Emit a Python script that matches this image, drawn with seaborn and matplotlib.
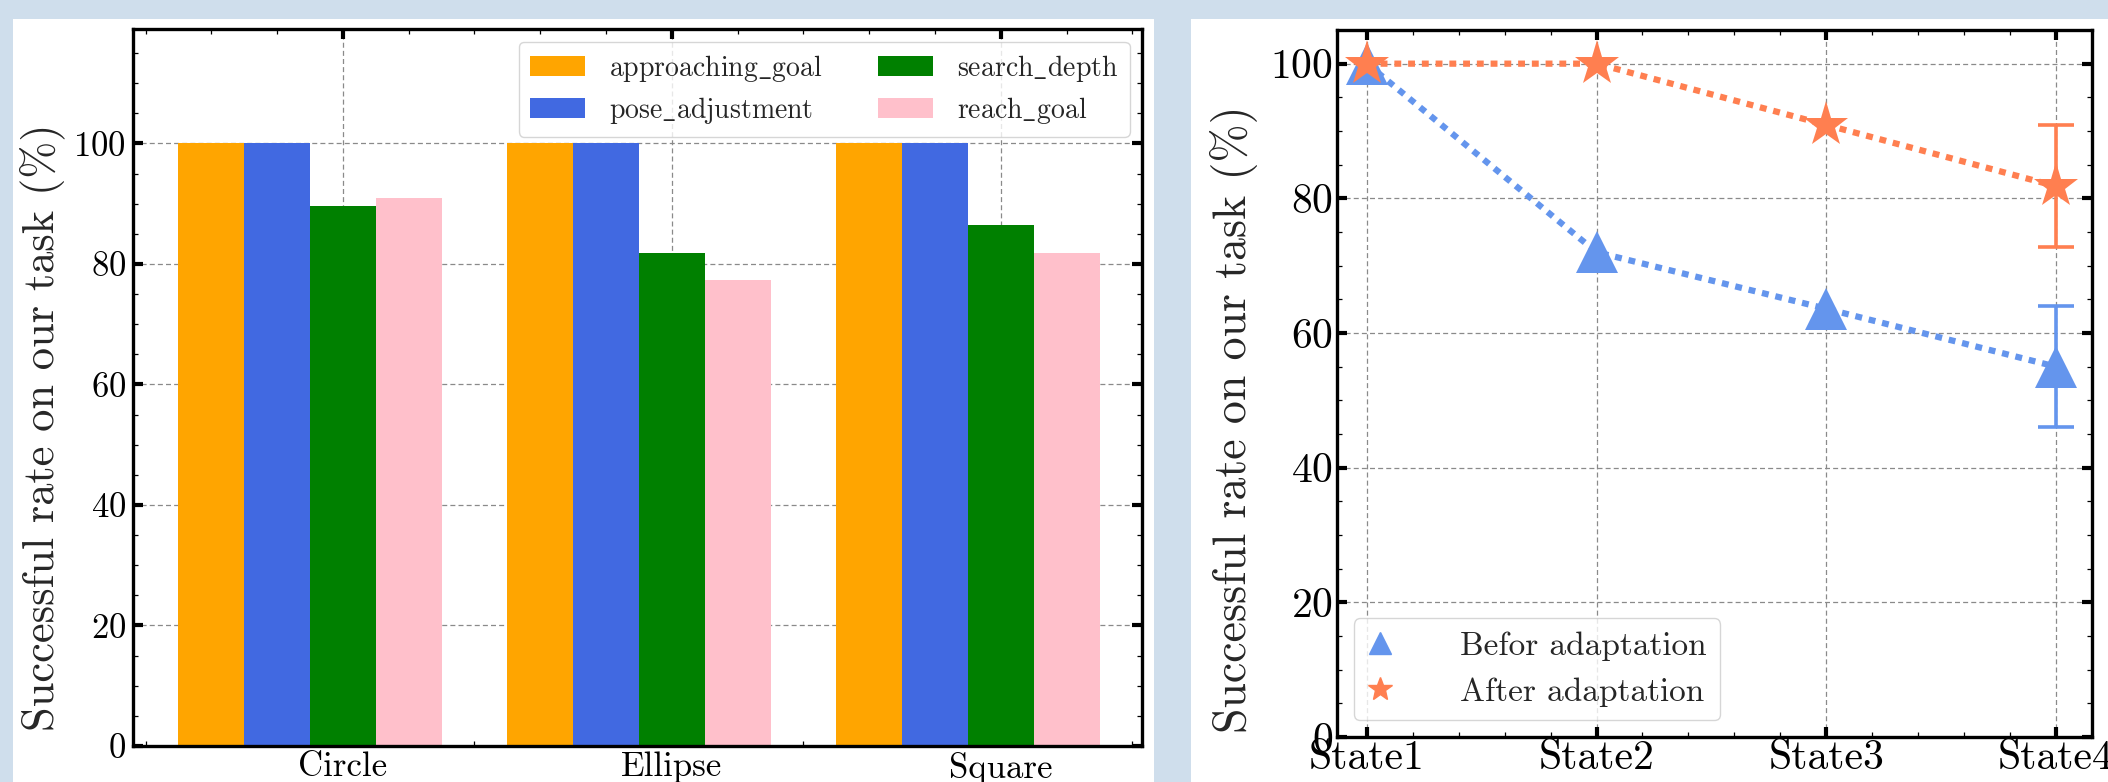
import matplotlib
matplotlib.use('Agg')
import numpy as np
import pandas as pd
import seaborn as sns
import matplotlib.pyplot as plt
from matplotlib.patches import Rectangle
from matplotlib.lines import Line2D
from matplotlib.ticker import MultipleLocator

# bar chart data
shapes = ['Circle', 'Ellipse', 'Square']
metrics = [r'approaching$\_$goal', r'pose$\_$adjustment', r'search$\_$depth', r'reach$\_$goal']
approaching_goal = [100, 100, 100]
pose_adjustment = [100, 100, 100]
search_depth = [89.7, 81.8, 86.4]
reach_goal = [90.9, 77.3, 81.8]
bar_colors = ['orange', 'royalblue', 'green', 'pink']

# line chart data
states = ['State1', 'State2', 'State3', 'State4']
before = [100, 72, 63.6, 55]
after = [100, 100, 90.9, 81.8]
before_err = [0, 0, 0, 9]
after_err = [0, 0, 0, 9.1]

sns.set_style('ticks')
plt.rcParams['font.family'] = ['cmr10']
plt.rcParams['mathtext.fontset'] = 'cm'
plt.rcParams['axes.formatter.use_mathtext'] = True

fig = plt.figure(figsize=(21.08, 7.82), dpi=100, facecolor='#cfdeec')
W, H = 2108, 782
fig.add_artist(Rectangle((13/W, 0), (1154-13)/W, (H-19)/H, transform=fig.transFigure,
                         facecolor='white', edgecolor='none', zorder=0))
fig.add_artist(Rectangle((1191/W, 0), (W-1191)/W, (H-19)/H, transform=fig.transFigure,
                         facecolor='white', edgecolor='none', zorder=0))

ax1 = fig.add_axes([133/W, (H-746)/H, (1142-133)/W, (746-29)/H])
ax2 = fig.add_axes([1337/W, (H-737)/H, (2092-1337)/W, (737-30)/H])


def style_axes(ax, fs):
    for s in ax.spines.values():
        s.set_linewidth(2.4)
        s.set_color('black')
    ax.tick_params(which='both', direction='in', top=True, right=True, labelsize=fs, colors='black')
    ax.tick_params(which='major', length=7, width=3)
    ax.tick_params(which='minor', length=3.5, width=0.9)
    ax.grid(True, which='major', linestyle=(0, (4, 2.5)), linewidth=0.9, color='#8a8a8a')


# left: grouped bars
rows = []
for i, s in enumerate(shapes):
    for m, vals in zip(metrics, [approaching_goal, pose_adjustment, search_depth, reach_goal]):
        rows.append({'shape': s, 'metric': m, 'rate': vals[i]})
df = pd.DataFrame(rows)

sns.barplot(data=df, x='shape', y='rate', hue='metric', palette=bar_colors, saturation=1,
            errorbar=None, width=0.8, linewidth=0, ax=ax1)
ax1.set_axisbelow(True)
ax1.set_xlim(-0.538, 2.529)
ax1.set_ylim(0, 119)
ax1.set_xticks([0.1, 1.1, 2.1], shapes)
ax1.xaxis.set_minor_locator(MultipleLocator(0.2, offset=0.1))
ax1.yaxis.set_major_locator(MultipleLocator(20))
ax1.yaxis.set_minor_locator(MultipleLocator(5))
style_axes(ax1, 25)
ax1.tick_params(axis='x', which='major', pad=4)
ax1.tick_params(axis='y', which='major', pad=5)
ax1.set_xlabel('')
ax1.set_ylabel('Successful rate on our task (%)', fontsize=32)
ax1.yaxis.set_label_coords(-0.067, 0.445)
old = ax1.get_legend()
handles = old.legend_handles
labels = [t.get_text() for t in old.get_texts()]
old.remove()
ax1.legend(handles, labels, ncol=2, loc='upper right', fontsize=20, handlelength=2.0,
           handletextpad=0.85, columnspacing=2.0, labelspacing=0.4, borderaxespad=0.45,
           frameon=True, fancybox=True, edgecolor='#cccccc', framealpha=0.8)

# right: lines with error bars
x = np.arange(len(states))
sns.lineplot(x=x, y=before, ax=ax2, color='cornflowerblue', marker='^', markersize=30,
             markeredgewidth=0, linestyle=(0, (1.1, 1.1)), linewidth=4.5, zorder=3)
sns.lineplot(x=x, y=after, ax=ax2, color='coral', marker='*', markersize=34,
             markeredgewidth=0, linestyle=(0, (1.1, 1.1)), linewidth=4.5, zorder=4)
ax2.errorbar(x[3:], before[3:], yerr=before_err[3:], fmt='none', ecolor='cornflowerblue',
             elinewidth=2.6, capsize=13, capthick=2.6, zorder=3)
ax2.errorbar(x[3:], after[3:], yerr=after_err[3:], fmt='none', ecolor='coral',
             elinewidth=2.6, capsize=13, capthick=2.6, zorder=4)
ax2.set_xlim(-0.13, 3.157)
ax2.set_ylim(0, 105)
ax2.set_xticks(x, states)
ax2.xaxis.set_minor_locator(MultipleLocator(0.2))
ax2.yaxis.set_major_locator(MultipleLocator(20))
ax2.yaxis.set_minor_locator(MultipleLocator(5))
style_axes(ax2, 30)
ax2.tick_params(axis='x', which='major', pad=2)
ax2.tick_params(axis='y', which='major', pad=3)
ax2.set_ylabel('Successful rate on our task (%)', fontsize=33)
ax2.yaxis.set_label_coords(-0.104, 0.449)
leg_handles = [Line2D([], [], marker='^', linestyle='none', color='cornflowerblue', markersize=16),
               Line2D([], [], marker='*', linestyle='none', color='coral', markersize=18)]
ax2.legend(leg_handles, ['Befor adaptation', 'After adaptation'], loc='lower left', fontsize=24,
           handlelength=0.8, handletextpad=2.0, frameon=True, fancybox=True,
           edgecolor='#cccccc', framealpha=0.8)

fig.savefig('out.png', dpi=100, facecolor=fig.get_facecolor())
